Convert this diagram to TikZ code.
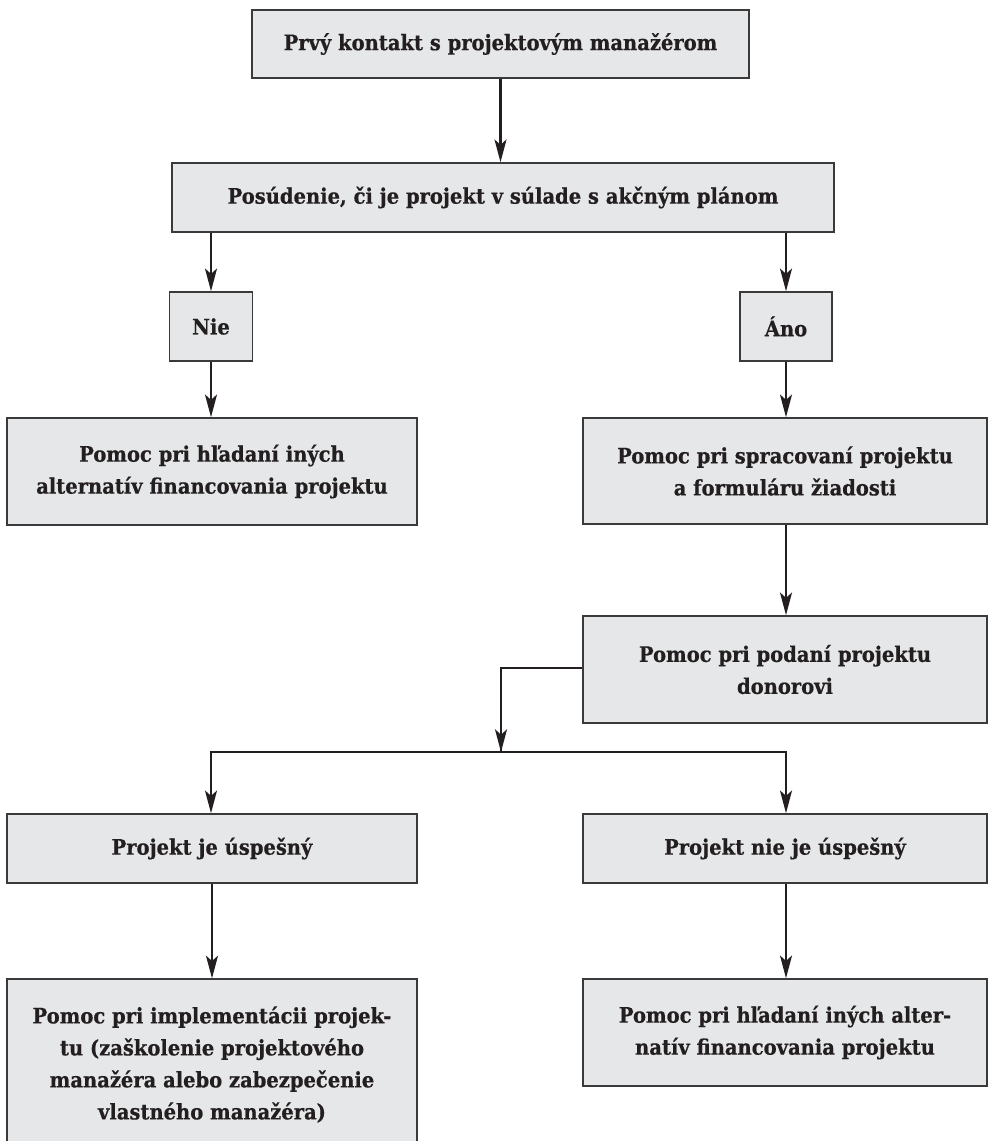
\documentclass[tikz,border=0pt]{standalone}
\usepackage{fontspec}
\newfontfamily\boxfont{DejaVu Serif}[FakeStretch=0.915,FakeBold=0.6]
\usetikzlibrary{arrows.meta}
\definecolor{boxfill}{HTML}{E6E7E8}
\definecolor{boxline}{HTML}{3A3A3A}
\definecolor{txt}{HTML}{231F20}
\begin{document}
\begin{tikzpicture}[x=0.75pt,y=-0.75pt,
  bx/.style={draw=boxline,line width=1.2pt,fill=boxfill,inner sep=0pt,align=center,
    font=\boxfont\bfseries\fontsize{16}{24}\selectfont,text=txt},
  arr/.style={draw=txt,line width=1.6pt,-{Stealth[length=17pt,width=9pt,inset=4pt]}},
  ln/.style={draw=txt,line width=1.6pt}]
\useasboundingbox (0,0) rectangle (988,1141);
\node[bx,minimum width=372.75pt,minimum height=51pt] (A) at (500.5,44) {Prvý kontakt s projektovým manažérom};
\node[bx,minimum width=496.5pt,minimum height=51.75pt] (B) at (503,197.5) {Posúdenie, či je projekt v súlade s akčným plánom};
\node[bx,minimum width=62.25pt,minimum height=51.75pt] (C) at (211,326.5) {Nie};
\node[bx,minimum width=69pt,minimum height=51.75pt] (D) at (786,326.5) {Áno};
\node[bx,minimum width=307.5pt,minimum height=80.25pt] (E) at (212,471.5) {Pomoc pri hľadaní iných\\alternatív financovania projektu};
\node[bx,minimum width=303pt,minimum height=79.5pt] (F) at (785,471) {Pomoc pri spracovaní projektu\\a formuláru žiadosti};
\node[bx,minimum width=303pt,minimum height=80.25pt] (G) at (785,669.5) {Pomoc pri podaní projektu\\donorovi};
\node[bx,minimum width=307.5pt,minimum height=51.75pt] (H) at (212,848.5) {Projekt je úspešný};
\node[bx,minimum width=303pt,minimum height=51.75pt] (I) at (785,848.5) {Projekt nie je úspešný};
\node[bx,minimum width=307.5pt,minimum height=128pt] (J) at (212,1064.5) {Pomoc pri implementácii projek-\\tu (zaškolenie projektového\\manažéra alebo zabezpečenie\\vlastného manažéra)};
\node[bx,minimum width=303pt,minimum height=80.25pt] (K) at (785,1032.5) {Pomoc pri hľadaní iných alter-\\natív financovania projektu};
\coordinate (j) at (501,752);
\coordinate (jl) at (211,752);
\coordinate (jr) at (786,752);
\draw[arr] (A.south) -- (A.south |- B.north);
\draw[arr] (C.north |- B.south) -- (C.north);
\draw[arr] (D.north |- B.south) -- (D.north);
\draw[arr] (C.south) -- (E.north -| C.south);
\draw[arr] (D.south) -- (F.north -| D.south);
\draw[arr] (F.south -| D.south) -- (G.north -| D.south);
\draw[ln] (G.west |- 0,668) -| ([yshift=0.8pt]j);
\draw[arr] (501,700) -- (j);
\draw[ln] ([xshift=-0.8pt]jl) -- ([xshift=0.8pt]jr);
\draw[arr] (jl) -- (jl |- H.north);
\draw[arr] (jr) -- (jr |- I.north);
\draw[arr] (H.south) -- (J.north);
\draw[arr] (I.south -| jr) -- (K.north -| jr);
\end{tikzpicture}
\end{document}
